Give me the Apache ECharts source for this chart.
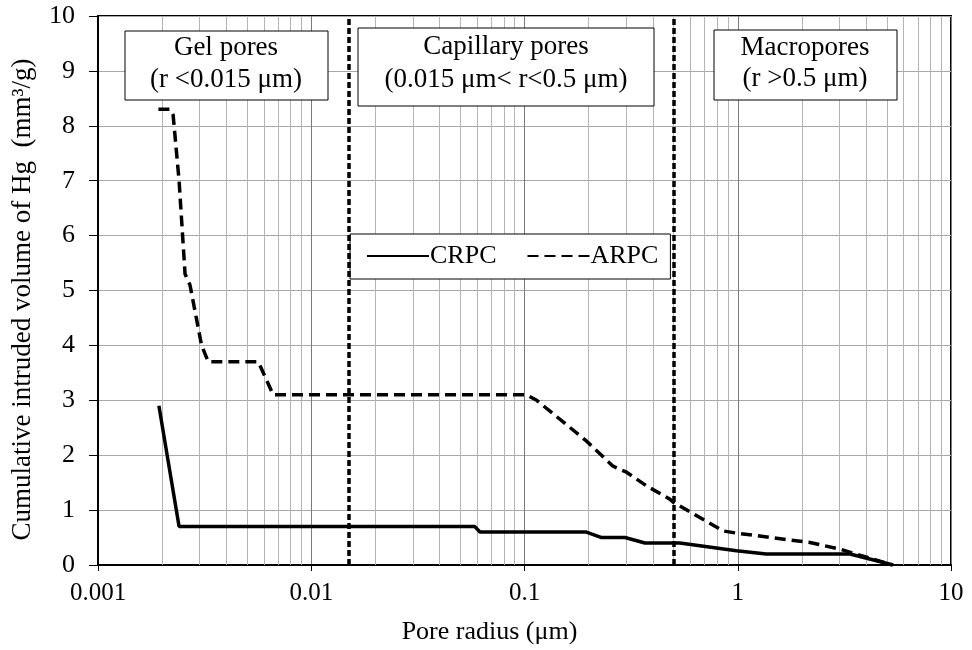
<!DOCTYPE html>
<html>
<head>
<meta charset="utf-8">
<script src="https://cdn.jsdelivr.net/npm/echarts@6/dist/echarts.min.js"></script>
<style>
  html, body { margin: 0; padding: 0; background: #fff; }
  #chart { width: 972px; height: 650px; }
</style>
</head>
<body>
<div id="chart"></div>
<script>
// pore radius (um) and cumulative intruded volume (mm3/g)
const crpcRadius = [0.00193, 0.0024, 0.0585, 0.0618, 0.195, 0.23, 0.296, 0.367, 0.535, 0.986, 1.36, 3.36, 5.36]
const crpcVolume = [2.9, 0.7, 0.7, 0.6, 0.6, 0.5, 0.5, 0.4, 0.4, 0.26, 0.2, 0.2, 0]

const arpcRadius = [0.00192, 0.00218, 0.00225, 0.0024, 0.00256, 0.0027, 0.00306, 0.00329, 0.00565, 0.00663,
  0.102, 0.114, 0.195, 0.26, 0.301, 0.374, 0.48, 0.5, 0.855, 0.99, 2.18, 3.01, 3.45, 5.3]
const arpcVolume = [8.3, 8.3, 8.2, 7.0, 5.3, 5.1, 4.0, 3.7, 3.7, 3.1,
  3.1, 3.0, 2.26, 1.8, 1.69, 1.44, 1.2, 1.14, 0.62, 0.58, 0.41, 0.29, 0.22, 0]

const boundaries = [0.015, 0.5]
const decades = [0.001, 0.01, 0.1, 1]
const minorSteps = [2, 3, 4, 5, 6, 7, 8, 9]

const font = '"Liberation Serif", "Times New Roman", serif'
const boxFont = '27px ' + font

const minorLines = []
decades.forEach(d => minorSteps.forEach(k => minorLines.push({ xAxis: +(d * k).toPrecision(3) })))

const chart = echarts.init(document.getElementById('chart'))

chart.setOption({
  animation: false,
  backgroundColor: '#fff',
  grid: {
    left: 98, right: 21, top: 16, bottom: 84,
    show: true, borderColor: '#000', borderWidth: 2
  },
  legend: {
    left: 350, top: 234,
    padding: [9, 12, 10, 16],
    itemGap: 30,
    itemWidth: 62,
    itemHeight: 14,
    backgroundColor: '#fff',
    borderColor: '#000',
    borderWidth: 1,
    itemStyle: { opacity: 0 },
    textStyle: { fontFamily: font, fontSize: 26, color: '#000', padding: [0, 0, 0, -4] },
    data: ['CRPC', 'ARPC']
  },
  xAxis: {
    type: 'log',
    logBase: 10,
    min: 0.001,
    max: 10,
    name: 'Pore radius (μm)',
    nameLocation: 'middle',
    nameGap: 54,
    nameTextStyle: { fontFamily: font, fontSize: 26, color: '#000', padding: [0, 70, 0, 0] },
    axisLine: { lineStyle: { color: '#000', width: 2 } },
    axisTick: { show: true, length: 6, lineStyle: { color: '#000' } },
    axisLabel: {
      fontFamily: font, fontSize: 25, color: '#000', margin: 16,
      formatter: v => String(+v.toPrecision(3))
    },
    splitLine: { show: true, lineStyle: { color: '#7a7a7a', width: 1 } }
  },
  yAxis: {
    type: 'value',
    min: 0,
    max: 10,
    interval: 1,
    name: 'Cumulative intruded volume of Hg  (mm³/g)',
    nameLocation: 'middle',
    nameGap: 62,
    nameTextStyle: { fontFamily: font, fontSize: 27, color: '#000', padding: [0, 18, 0, 0] },
    axisLine: { show: true, lineStyle: { color: '#000', width: 2 } },
    axisTick: { show: true, length: 9, lineStyle: { color: '#000' } },
    axisLabel: { fontFamily: font, fontSize: 26, color: '#000', margin: 23 },
    splitLine: { show: true, lineStyle: { color: '#a8a8a8', width: 1 } }
  },
  series: [
    {
      name: 'CRPC',
      type: 'line',
      data: crpcRadius.map((r, i) => [r, crpcVolume[i]]),
      showSymbol: false,
      symbol: 'none',
      lineStyle: { color: '#000', width: 3.5 },
      itemStyle: { color: '#000' },
      z: 5,
      markLine: {
        silent: true,
        symbol: 'none',
        precision: 6,
        label: { show: false },
        lineStyle: { color: '#b4b4b4', width: 1, type: 'solid' },
        data: minorLines,
        z: 1
      }
    },
    {
      name: 'ARPC',
      type: 'line',
      data: arpcRadius.map((r, i) => [r, arpcVolume[i]]),
      showSymbol: false,
      symbol: 'none',
      lineStyle: { color: '#000', width: 3.5, type: [11, 6] },
      itemStyle: { color: '#000' },
      z: 5,
      markLine: {
        silent: true,
        symbol: 'none',
        precision: 6,
        label: { show: false },
        lineStyle: { color: '#000', width: 3.5, type: [6, 3] },
        data: boundaries.map(b => ({ xAxis: b }))
      }
    }
  ],
  graphic: [
    { type: 'rect', shape: { x: 125, y: 31, width: 203, height: 69 }, style: { fill: '#fff', stroke: '#000', lineWidth: 1 }, z: 10 },
    { type: 'text', x: 226, y: 48, style: { text: 'Gel pores', font: boxFont, fill: '#000', align: 'center', verticalAlign: 'middle' }, z: 11 },
    { type: 'text', x: 226, y: 80, style: { text: '(r <0.015 μm)', font: boxFont, fill: '#000', align: 'center', verticalAlign: 'middle' }, z: 11 },

    { type: 'rect', shape: { x: 358, y: 28, width: 296, height: 78 }, style: { fill: '#fff', stroke: '#000', lineWidth: 1 }, z: 10 },
    { type: 'text', x: 506, y: 47, style: { text: 'Capillary pores', font: boxFont, fill: '#000', align: 'center', verticalAlign: 'middle' }, z: 11 },
    { type: 'text', x: 506, y: 80, style: { text: '(0.015 μm< r<0.5 μm)', font: boxFont, fill: '#000', align: 'center', verticalAlign: 'middle' }, z: 11 },

    { type: 'rect', shape: { x: 714, y: 30, width: 183, height: 70 }, style: { fill: '#fff', stroke: '#000', lineWidth: 1 }, z: 10 },
    { type: 'text', x: 805, y: 48, style: { text: 'Macropores', font: boxFont, fill: '#000', align: 'center', verticalAlign: 'middle' }, z: 11 },
    { type: 'text', x: 805, y: 79, style: { text: '(r >0.5 μm)', font: boxFont, fill: '#000', align: 'center', verticalAlign: 'middle' }, z: 11 }
  ]
})
</script>
</body>
</html>
